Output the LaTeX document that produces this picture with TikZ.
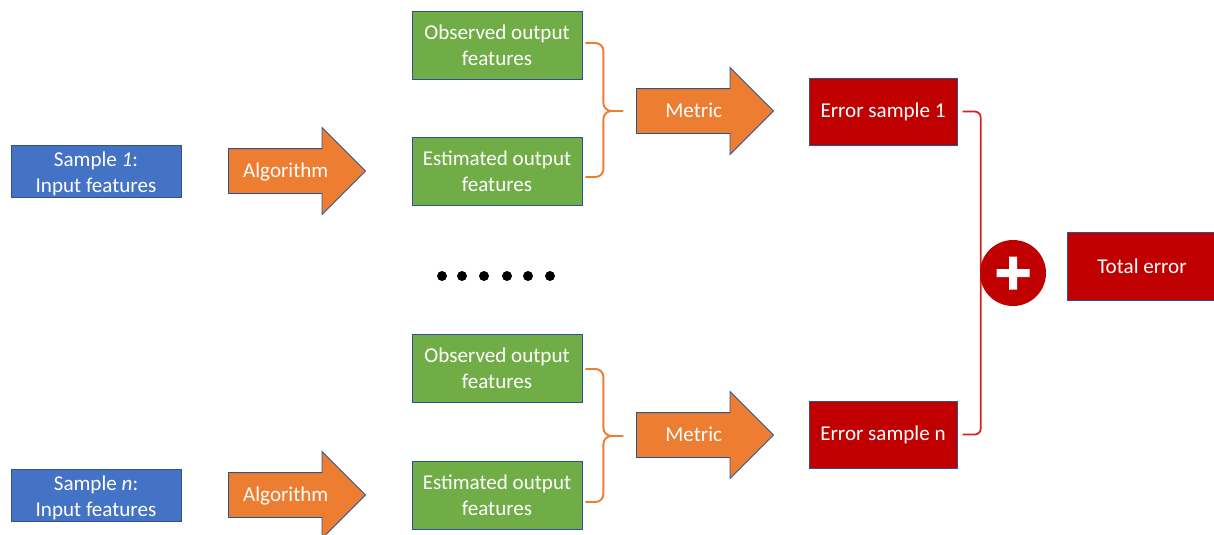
\documentclass[tikz,border=0pt]{standalone}
\usepackage{fontspec}
\setmainfont{Carlito}
\usepackage{tikz}
\usetikzlibrary{shapes,shapes.arrows,calc}
\definecolor{inblue}{HTML}{4472C4}
\definecolor{outgreen}{HTML}{70AD47}
\definecolor{arrorange}{HTML}{ED7D31}
\definecolor{errred}{HTML}{C00000}
\definecolor{linered}{HTML}{DC1E1E}
\definecolor{olline}{HTML}{2F528F}
\tikzset{
box/.style={draw=olline, line width=0.5pt, text=white, align=center, inner sep=0pt, font=\fontsize{12}{14.6}\selectfont},
inbox/.style={box, fill=inblue, minimum width=34mm, minimum height=10.4mm, text height=8.5mm, text depth=0mm},
outbox/.style={box, fill=outgreen, minimum width=34mm, minimum height=13.6mm},
errbox/.style={box, fill=errred, minimum width=29.6mm, minimum height=13.4mm},
fat/.style={box, single arrow, fill=arrorange, single arrow head extend=4.2mm, minimum height=27.4mm, text height=3mm, text depth=0.3mm, inner ysep=2.75mm, inner xsep=1mm, anchor=tail},
brc/.style={rounded corners=1.6mm, line width=1.1pt}
}
\begin{document}
\begin{tikzpicture}[x=0.2mm, y=-0.2mm]
\useasboundingbox (0,0) rectangle (1214,534);
\node[inbox](in1) at (96,171){Sample \textit{1}:\\Input features};
\node[inbox](inn) at (96,495){Sample \textit{n}:\\Input features};
\node[fat](alg1) at (228,171){Algorithm};
\node[fat](algn) at (228,495){Algorithm};
\node[outbox](obs1) at (497,45){Observed output\\features};
\node[outbox](est1) at (497,171){Estimated output\\features};
\node[outbox](obsn) at (497,368){Observed output\\features};
\node[outbox](estn) at (497,495){Estimated output\\features};
\node[fat](met1) at (636,111){Metric};
\node[fat](metn) at (636,435){Metric};
\node[errbox](err1) at (883,111.5){Error sample 1};
\node[errbox](errn) at (883,434.5){Error sample n};
\node[box, fill=errred, minimum width=30mm, minimum height=13.6mm](total) at (1142,266){Total error};
\draw[brc, arrorange]([shift={(3,-2)}]obs1.east)--++(18,0)|-++(20,68)++(0,0)-|++(-20,66)--++(-18,0);
\draw[brc, arrorange]([shift={(3,1)}]obsn.east)--++(18,0)|-++(20,67)++(0,0)-|++(-20,66)--++(-18,0);
\draw[brc, linered, line width=1pt, rounded corners=1.2mm]([xshift=3]err1.east)--++(18,0)|-++(22,162)++(0,0)-|++(-22,161)--++(-18,0);
\node[circle, fill=errred, minimum size=13.2mm, inner sep=0pt](sum) at (1013,273){};
\fill[white]($(sum)+(-16.5,-4)$) rectangle ($(sum)+(16.5,4)$) ($(sum)+(-4,-16.5)$) rectangle ($(sum)+(4,16.5)$);
\foreach \x in {442,462,484,507,528,550}
	\fill(\x,276)circle(1mm);
\end{tikzpicture}
\end{document}
